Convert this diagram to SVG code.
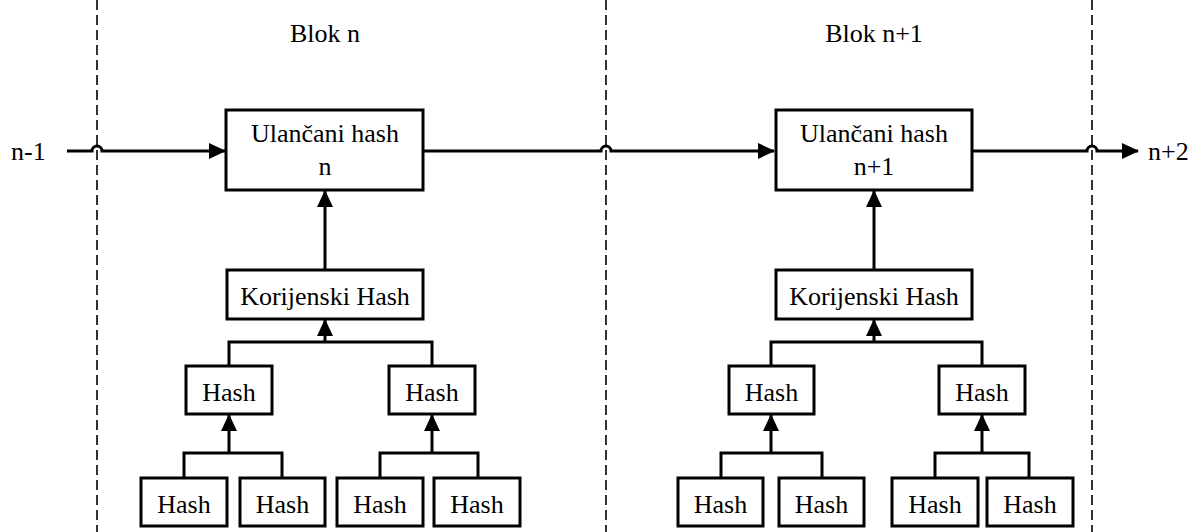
<svg xmlns="http://www.w3.org/2000/svg" width="1198" height="532" viewBox="0 0 1198 532">
<style>
text{font-family:'Liberation Serif','DejaVu Serif',serif;font-size:26px;fill:#000}
.c{text-anchor:middle}
.box{fill:#fff;stroke:#000;stroke-width:3}
.ln{fill:none;stroke:#000;stroke-width:3}
.dash{fill:none;stroke:#000;stroke-width:1.6;stroke-dasharray:10,5}
</style>
<defs>
<marker id="ah" markerUnits="userSpaceOnUse" markerWidth="17" markerHeight="17" refX="16" refY="8" orient="auto">
<path d="M0,0 L17,8 L0,16 z" fill="#000"/>
</marker>
</defs>
<g id="separators">
<line class="dash" x1="97" y1="0" x2="97" y2="532"/>
<line class="dash" x1="606" y1="0" x2="606" y2="532"/>
<line class="dash" x1="1092" y1="0" x2="1092" y2="532"/>
</g>
<g id="labels">
<text class="c" x="325" y="42">Blok n</text>
<text class="c" x="874" y="42">Blok n+1</text>
<text x="11" y="160">n-1</text>
<text x="1148" y="160">n+2</text>
</g>
<g id="connectors">
<path class="ln" d="M67,151 H92 A5,5 0 0 1 102,151 H225" marker-end="url(#ah)"/>
<path class="ln" d="M423,151 H601 A5,5 0 0 1 611,151 H774" marker-end="url(#ah)"/>
<path class="ln" d="M972,151 H1087 A5,5 0 0 1 1097,151 H1138" marker-end="url(#ah)"/>
<path class="ln" d="M325,270 V191" marker-end="url(#ah)"/>
<path class="ln" d="M874,270 V191" marker-end="url(#ah)"/>
<path class="ln" d="M325,342 V320" marker-end="url(#ah)"/>
<path class="ln" d="M874,342 V320" marker-end="url(#ah)"/>
<path class="ln" d="M229,366 V342 H432 V366"/>
<path class="ln" d="M771,366 V342 H982 V366"/>
<path class="ln" d="M184,478 V453 H282 V478"/>
<path class="ln" d="M229,453 V415" marker-end="url(#ah)"/>
<path class="ln" d="M380,478 V453 H478 V478"/>
<path class="ln" d="M432,453 V415" marker-end="url(#ah)"/>
<path class="ln" d="M721,478 V453 H822 V478"/>
<path class="ln" d="M771,453 V415" marker-end="url(#ah)"/>
<path class="ln" d="M935,478 V453 H1029 V478"/>
<path class="ln" d="M982,453 V415" marker-end="url(#ah)"/>
</g>
<g id="chain-n"><rect class="box" x="226" y="110" width="197" height="80"/><text class="c" x="325" y="142">Ulančani hash</text><text class="c" x="325" y="175">n</text></g>
<g id="chain-n1"><rect class="box" x="776" y="110" width="196" height="80"/><text class="c" x="874" y="142">Ulančani hash</text><text class="c" x="874" y="175">n+1</text></g>
<g id="root-n"><rect class="box" x="227" y="270" width="196" height="49"/><text class="c" x="325" y="305">Korijenski Hash</text></g>
<g id="root-n1"><rect class="box" x="776" y="270" width="196" height="49"/><text class="c" x="874" y="305">Korijenski Hash</text></g>
<g id="h-n-l"><rect class="box" x="186" y="366" width="86" height="48"/><text class="c" x="229" y="401">Hash</text></g>
<g id="h-n-r"><rect class="box" x="389" y="366" width="86" height="48"/><text class="c" x="432" y="401">Hash</text></g>
<g id="h-n1-l"><rect class="box" x="729" y="366" width="85" height="48"/><text class="c" x="771.5" y="401">Hash</text></g>
<g id="h-n1-r"><rect class="box" x="939" y="366" width="86" height="48"/><text class="c" x="982" y="401">Hash</text></g>
<g id="leaf-n-1"><rect class="box" x="141" y="478" width="86" height="48"/><text class="c" x="184" y="513">Hash</text></g>
<g id="leaf-n-2"><rect class="box" x="240" y="478" width="85" height="48"/><text class="c" x="282.5" y="513">Hash</text></g>
<g id="leaf-n-3"><rect class="box" x="337" y="478" width="86" height="48"/><text class="c" x="380" y="513">Hash</text></g>
<g id="leaf-n-4"><rect class="box" x="434" y="478" width="86" height="48"/><text class="c" x="477" y="513">Hash</text></g>
<g id="leaf-n1-1"><rect class="box" x="678" y="478" width="85" height="48"/><text class="c" x="720.5" y="513">Hash</text></g>
<g id="leaf-n1-2"><rect class="box" x="779" y="478" width="85" height="48"/><text class="c" x="821.5" y="513">Hash</text></g>
<g id="leaf-n1-3"><rect class="box" x="892" y="478" width="86" height="48"/><text class="c" x="935" y="513">Hash</text></g>
<g id="leaf-n1-4"><rect class="box" x="987" y="478" width="86" height="48"/><text class="c" x="1030" y="513">Hash</text></g>
</svg>
